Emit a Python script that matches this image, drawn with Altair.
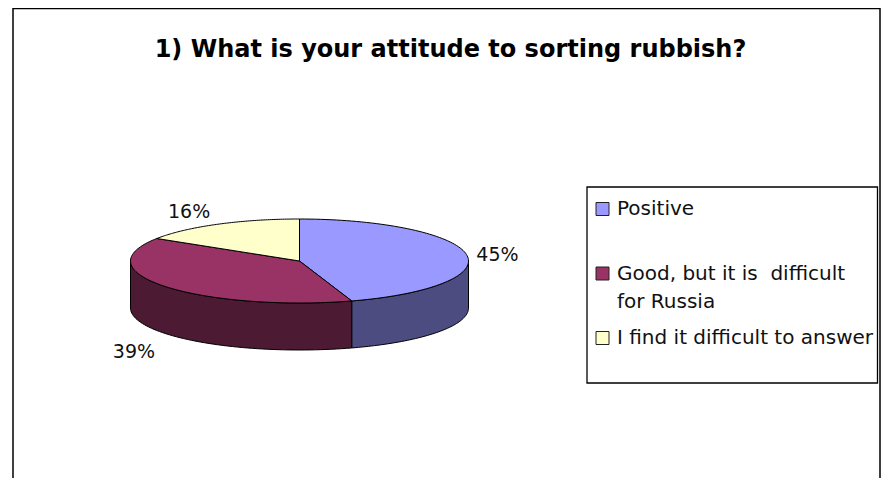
import altair as alt
import pandas as pd

# ---------------- data ----------------
TITLE = "1) What is your attitude to sorting rubbish?"
categories = ["Positive", "Good, but it is  difficult for Russia", "I find it difficult to answer"]
values = [45, 39, 16]
legend_line1 = ["Positive", "Good, but it is \u00a0difficult", "I find it difficult to answer"]
legend_line2 = ["", "for Russia", ""]

# ---------------- style ----------------
top_colors = ["#9999FF", "#993366", "#FFFFCC"]
side_colors = ["#4C4C80", "#4C1A33", "#80805F"]
FONT = "DejaVu Sans"

W, H = 873, 470
CX, CY = 291.5, 253.0      # ellipse centre (plot px)
RX, RY = 169.0, 42.0       # ellipse semi-axes (px)
DEPTH = 47.0 / RY          # pie thickness in y units
N = 90                     # samples per slice outline
M = 60                     # samples per wall edge

df = pd.DataFrame({
    "category": categories,
    "value": values,
    "order": list(range(len(categories))),
    "line1": legend_line1,
    "line2": legend_line2,
})

xs = alt.Scale(domain=[-1, 1], range=[CX - RX, CX + RX], nice=False, zero=False)
ys = alt.Scale(domain=[-1, 1], range=[CY + RY, CY - RY], nice=False, zero=False)

base = alt.Chart(df)


def slices(ch):
    return ch.transform_joinaggregate(total="sum(value)").transform_window(
        cum="sum(value)", sort=[alt.SortField("order")], frame=[None, 0]
    ).transform_calculate(
        a0="2*PI*(datum.cum - datum.value)/datum.total",
        a1="2*PI*datum.cum/datum.total",
    )


# side walls (front half of the cylinder)
walls = slices(base).transform_calculate(
    lo="max(datum.a0, PI/2)", hi="min(datum.a1, 3*PI/2)"
).transform_filter("datum.hi > datum.lo").transform_calculate(
    step=f"sequence(0, {2 * M + 3})"
).transform_flatten(["step"]).transform_calculate(
    k=f"datum.step > {2 * M + 1} ? 0 : datum.step",
).transform_calculate(
    upper=f"datum.k <= {M}",
).transform_calculate(
    t=f"datum.upper ? datum.k/{M} : 1 - (datum.k - {M + 1})/{M}",
).transform_calculate(
    ang="datum.lo + datum.t*(datum.hi - datum.lo)",
).transform_calculate(
    px="sin(datum.ang)",
    py=f"cos(datum.ang) - (datum.upper ? 0 : {DEPTH})",
).mark_line(stroke="black", strokeWidth=1, strokeJoin="round").encode(
    x=alt.X("px:Q", scale=xs, axis=None),
    y=alt.Y("py:Q", scale=ys, axis=None),
    fill=alt.Fill("category:N", scale=alt.Scale(domain=categories, range=side_colors), legend=None),
    order=alt.Order("step:Q"),
)

# top faces
top = slices(base).transform_calculate(
    step=f"sequence(0, {N + 3})"
).transform_flatten(["step"]).transform_calculate(
    t=f"clamp(datum.step - 1, 0, {N}) / {N}",
    edge=f"datum.step > 0 && datum.step < {N + 2}",
).transform_calculate(
    ang="datum.a0 + datum.t*(datum.a1 - datum.a0)",
).transform_calculate(
    px="datum.edge ? sin(datum.ang) : 0",
    py="datum.edge ? cos(datum.ang) : 0",
).mark_line(stroke="black", strokeWidth=1, strokeJoin="round").encode(
    x=alt.X("px:Q", scale=xs, axis=None),
    y=alt.Y("py:Q", scale=ys, axis=None),
    fill=alt.Fill("category:N", scale=alt.Scale(domain=categories, range=top_colors), legend=None),
    order=alt.Order("step:Q"),
)

# percentage labels
lab = slices(base).transform_calculate(
    mid="(datum.a0 + datum.a1)/2",
).transform_calculate(
    lx=f"sin(datum.mid) * {(RX + 10) / RX}",
    ly=f"cos(datum.mid) >= 0 ? cos(datum.mid)*{(RY + 18) / RY} - 0.08 : cos(datum.mid)*{(RY + 30) / RY} - {DEPTH}",
    pct="round(100*datum.value/datum.total) + '%'",
    side="sin(datum.mid) >= 0 ? 'R' : 'L'",
)
lab_enc = dict(
    x=alt.X("lx:Q", scale=xs, axis=None),
    y=alt.Y("ly:Q", scale=ys, axis=None),
    text="pct:N",
)
labels_r = lab.transform_filter("datum.side == 'R'").mark_text(
    align="left", baseline="middle", font=FONT, fontSize=19, color="#111"
).encode(**lab_enc)
labels_l = lab.transform_filter("datum.side == 'L'").mark_text(
    align="right", baseline="middle", font=FONT, fontSize=19, color="#111", dx=-3
).encode(**lab_enc)

# legend
leg_scale = alt.Scale(type="point", domain=categories, range=[201, 330], padding=0)
leg_scale2 = alt.Scale(type="point", domain=categories, range=[229, 358], padding=0)
leg_box = alt.Chart(pd.DataFrame({"k": [0]})).mark_rect(
    fillOpacity=0, stroke="black", strokeWidth=1.3
).encode(x=alt.value(579), x2=alt.value(869.5), y=alt.value(179), y2=alt.value(375))
leg_sym = base.mark_square(size=169, stroke="#222", strokeWidth=1, opacity=1).encode(
    x=alt.value(594.5),
    y=alt.Y("category:N", scale=leg_scale, axis=None),
    fill=alt.Fill("category:N", scale=alt.Scale(domain=categories, range=top_colors), legend=None),
)
leg_txt1 = base.mark_text(align="left", baseline="middle", font=FONT, fontSize=20, color="#111").encode(
    x=alt.value(609),
    y=alt.Y("category:N", scale=leg_scale, axis=None),
    text="line1:N",
)
leg_txt2 = base.transform_filter("datum.line2 != ''").mark_text(
    align="left", baseline="middle", font=FONT, fontSize=20, color="#111"
).encode(
    x=alt.value(609),
    y=alt.Y("category:N", scale=leg_scale2, axis=None),
    text="line2:N",
)

# outer frame and title
frame = alt.Chart(pd.DataFrame({"k": [0]})).mark_rect(
    fillOpacity=0, stroke="black", strokeWidth=1.5
).encode(x=alt.value(5), x2=alt.value(872), y=alt.value(0.5), y2=alt.value(490))
title = alt.Chart(pd.DataFrame({"title": [TITLE]})).mark_text(
    align="center", baseline="alphabetic", font=FONT, fontSize=24, fontWeight="bold", color="black"
).encode(x=alt.value(442.5), y=alt.value(49), text="title:N")

chart = alt.layer(
    frame, title, walls, top, labels_r, labels_l, leg_box, leg_sym, leg_txt1, leg_txt2
).resolve_scale(
    x="independent", y="independent", fill="independent"
).properties(
    width=W, height=H, padding=0, autosize=alt.AutoSizeParams(type="none"),
    background="white",
).configure_view(stroke=None)

chart.save("out.html", embed_options={"renderer": "svg", "actions": False})
